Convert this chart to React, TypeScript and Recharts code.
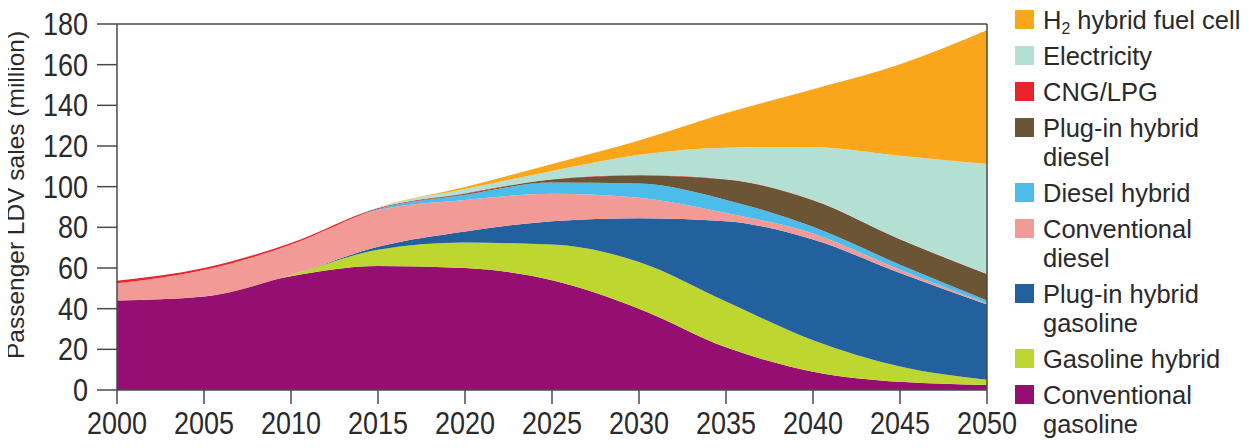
import React from "react";
import { AreaChart, Area, XAxis, YAxis, ReferenceLine } from "recharts";

const years = [2000, 2005, 2010, 2015, 2020, 2025, 2030, 2035, 2040, 2045, 2050];
const xTicks = [2000, 2005, 2010, 2015, 2020, 2025, 2030, 2035, 2040, 2045, 2050];
const yTicks = [0, 20, 40, 60, 80, 100, 120, 140, 160, 180];

const conventionalGasoline = [44, 46, 56, 61, 60, 54, 40, 21, 9, 4, 2.5];
const gasolineHybrid = [0, 0, 0.5, 8, 12.5, 17.5, 23, 22.5, 15.5, 7.5, 2.5];
const plugInHybridGasoline = [0, 0, 0, 1.5, 5.5, 11.5, 21.5, 39.5, 49.5, 46, 37];
const conventionalDiesel = [8.5, 13, 15, 18, 15.5, 13.5, 10, 4, 3, 1.6, 0.5];
const dieselHybrid = [0, 0, 0, 0.5, 2.5, 5.5, 7, 6.5, 3.3, 2.5, 1.5];
const plugInHybridDiesel = [0, 0, 0, 0, 0.5, 1.5, 4, 10, 13, 12.5, 13];
const cngLpg = [1.2, 1, 0.8, 0.5, 0.3, 0.2, 0.2, 0.2, 0.1, 0.1, 0.1];
const electricity = [0, 0, 0, 0.3, 2, 4, 10, 15.5, 26, 41, 54];
const h2HybridFuelCell = [0, 0, 0, 0, 1, 3.5, 7, 17, 28.5, 45, 66];

// bottom-to-top stacking order
const seriesKeys = ["cg", "gh", "phg", "cd", "dh", "phd", "cng", "el", "h2"];
const seriesValues = [
  conventionalGasoline,
  gasolineHybrid,
  plugInHybridGasoline,
  conventionalDiesel,
  dieselHybrid,
  plugInHybridDiesel,
  cngLpg,
  electricity,
  h2HybridFuelCell,
];
const seriesColors = ["#950F72", "#BDD630", "#23619E", "#F29B96", "#4CBDEA", "#6C5535", "#E8232A", "#B4E0D4", "#FAA61A"];

// legend, top-to-bottom
const legendKeys = ["h2", "el", "cng", "phd", "dh", "cd", "phg", "gh", "cg"];
const legendLines: string[][] = [
  ["H2 hybrid fuel cell"],
  ["Electricity"],
  ["CNG/LPG"],
  ["Plug-in hybrid", "diesel"],
  ["Diesel hybrid"],
  ["Conventional", "diesel"],
  ["Plug-in hybrid", "gasoline"],
  ["Gasoline hybrid"],
  ["Conventional", "gasoline"],
];

const data = years.map((year, i) => {
  const row: Record<string, number> = { year };
  seriesKeys.forEach((k, j) => {
    row[k] = seriesValues[j][i];
  });
  return row;
});

const AXIS = "#4a4a4a";
const TEXT_FONT = "'Liberation Sans', Arial, sans-serif";
const TEXT_COLOR = "#2a2a2a";

function renderLine(line: string) {
  if (line.startsWith("H2 ")) {
    return (
      <>
        H
        <sub style={{ fontSize: "0.62em", verticalAlign: "-0.3em", lineHeight: 0 }}>2</sub>
        {line.slice(2)}
      </>
    );
  }
  return line;
}

function LegendBlock() {
  return (
    <div
      style={{
        position: "absolute",
        left: 1015,
        top: 6,
        width: 240,
        fontFamily: TEXT_FONT,
        fontSize: 25.5,
        color: TEXT_COLOR,
      }}
    >
      {legendKeys.map((k, i) => {
        const color = seriesColors[seriesKeys.indexOf(k)];
        return (
          <div key={k} style={{ display: "flex", alignItems: "flex-start", marginBottom: 7 }}>
            <div style={{ width: 19, height: 19, background: color, marginTop: 4, marginRight: 9, flex: "none" }} />
            <div style={{ lineHeight: "29px", whiteSpace: "nowrap" }}>
              {legendLines[i].map((ln, j) => (
                <div key={j}>{renderLine(ln)}</div>
              ))}
            </div>
          </div>
        );
      })}
    </div>
  );
}

function XTick(props: any) {
  const { x, y, payload } = props;
  return (
    <text
      transform={`translate(${x},${y}) scale(0.87,1)`}
      textAnchor="middle"
      dy="0.71em"
      fontFamily={TEXT_FONT}
      fontSize={31}
      fill={TEXT_COLOR}
    >
      {payload.value}
    </text>
  );
}

function YTick(props: any) {
  const { x, y, payload } = props;
  return (
    <text
      transform={`translate(${x},${y}) scale(0.87,1)`}
      textAnchor="end"
      dy="0.355em"
      fontFamily={TEXT_FONT}
      fontSize={31}
      fill={TEXT_COLOR}
    >
      {payload.value}
    </text>
  );
}

function YLabel() {
  const cy = 195;
  const cx = 24;
  return (
    <text
      x={cx}
      y={cy}
      transform={`rotate(-90, ${cx}, ${cy})`}
      textAnchor="middle"
      fontFamily={TEXT_FONT}
      fontSize={24.5}
      fill={TEXT_COLOR}
    >
      Passenger LDV sales (million)
    </text>
  );
}

export default function App() {
  return (
    <div style={{ position: "relative", width: 1257, height: 448, margin: "-8px 0 0 -8px" }}>
      <AreaChart
        width={1257}
        height={448}
        data={data}
        margin={{ top: 24, right: 270, bottom: 0, left: 0 }}
      >
        <XAxis
          dataKey="year"
          type="number"
          domain={[2000, 2050]}
          ticks={xTicks}
          interval={0}
          height={58}
          tickSize={14}
          tickMargin={8}
          axisLine={{ stroke: AXIS, strokeWidth: 1.5 }}
          tickLine={{ stroke: AXIS, strokeWidth: 1.5 }}
          tick={<XTick />}
        />
        <YAxis
          type="number"
          domain={[0, 180]}
          ticks={yTicks}
          interval={0}
          width={117}
          tickSize={20}
          tickMargin={9}
          axisLine={{ stroke: AXIS, strokeWidth: 1.5 }}
          tickLine={{ stroke: AXIS, strokeWidth: 1.5 }}
          tick={<YTick />}
          label={<YLabel />}
        />
        {seriesKeys.map((k, j) => (
          <Area
            key={k}
            dataKey={k}
            stackId="1"
            type="monotone"
            stroke="none"
            fill={seriesColors[j]}
            fillOpacity={1}
            isAnimationActive={false}
            activeDot={false}
          />
        ))}
        <ReferenceLine y={180} stroke={AXIS} strokeWidth={1.5} />
        <ReferenceLine x={2050} stroke={AXIS} strokeWidth={1.5} />
      </AreaChart>
      <LegendBlock />
    </div>
  );
}
